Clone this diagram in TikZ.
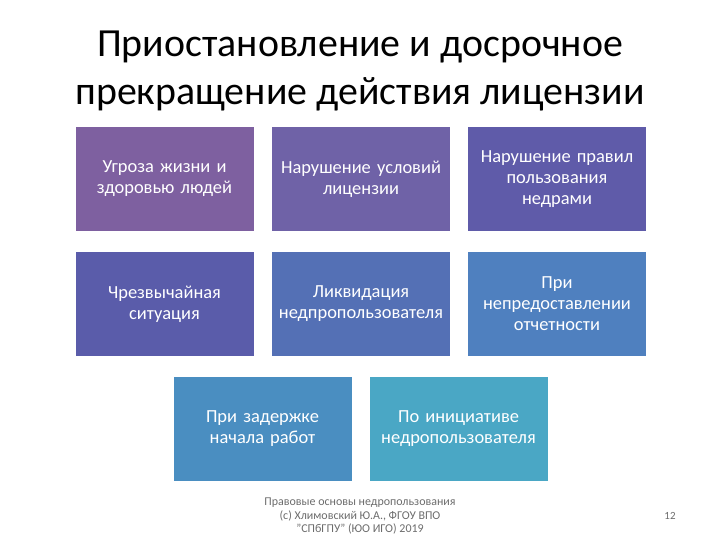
\documentclass[tikz,border=0pt]{standalone}
\usepackage{fontspec}
\setmainfont{Carlito}
\begin{document}
\begin{tikzpicture}[x=1bp,y=-1bp,
  box/.style={draw=none,minimum width=178bp,minimum height=104bp,inner sep=0pt,
    text width=174bp,align=center,text=white,font=\fontsize{18.5}{21}\selectfont},
  foot/.style={text=gray!85!black,font=\fontsize{12}{13.5}\selectfont,align=center}]
\useasboundingbox (0,0) rectangle (720,540);
\definecolor{c1}{HTML}{7E60A0}
\definecolor{c2}{HTML}{6F62A7}
\definecolor{c3}{HTML}{5F5BA9}
\definecolor{c4}{HTML}{5A5CAA}
\definecolor{c5}{HTML}{5470B5}
\definecolor{c6}{HTML}{4F80BF}
\definecolor{c7}{HTML}{4A8EC1}
\definecolor{c8}{HTML}{4AA7C5}
\node[font=\fontsize{40}{48.5}\selectfont,align=center] (title) at (360,71)
  {Приостановление и досрочное\\прекращение действия лицензии};
\node[box,fill=c1] (b1) at (164.5,179) {Угроза жизни и\\здоровью людей};
\node[box,fill=c2] (b2) at (361,179) {Нарушение условий\\лицензии};
\node[box,fill=c3] (b3) at (557,179) {Нарушение правил\\пользования\\недрами};
\node[box,fill=c4] (b4) at (164.5,304) {Чрезвычайная\\ситуация};
\node[box,fill=c5] (b5) at (361,304) {Ликвидация\\недпропользователя};
\node[box,fill=c6] (b6) at (557,304) {При\\непредоставлении\\отчетности};
\node[box,fill=c7] (b7) at (262.5,428.5) {При задержке\\начала работ};
\node[box,fill=c8] (b8) at (458.5,428.5) {По инициативе\\недропользователя};
\node[foot] (f) at (360,516) {Правовые основы недропользования\\(c) Хлимовский Ю.А., ФГОУ ВПО\\"СПбГПУ" (ЮО ИГО) 2019};
\node[foot,font=\fontsize{11}{13}\selectfont] (pg) at (670,516) {12};
\end{tikzpicture}
\end{document}
